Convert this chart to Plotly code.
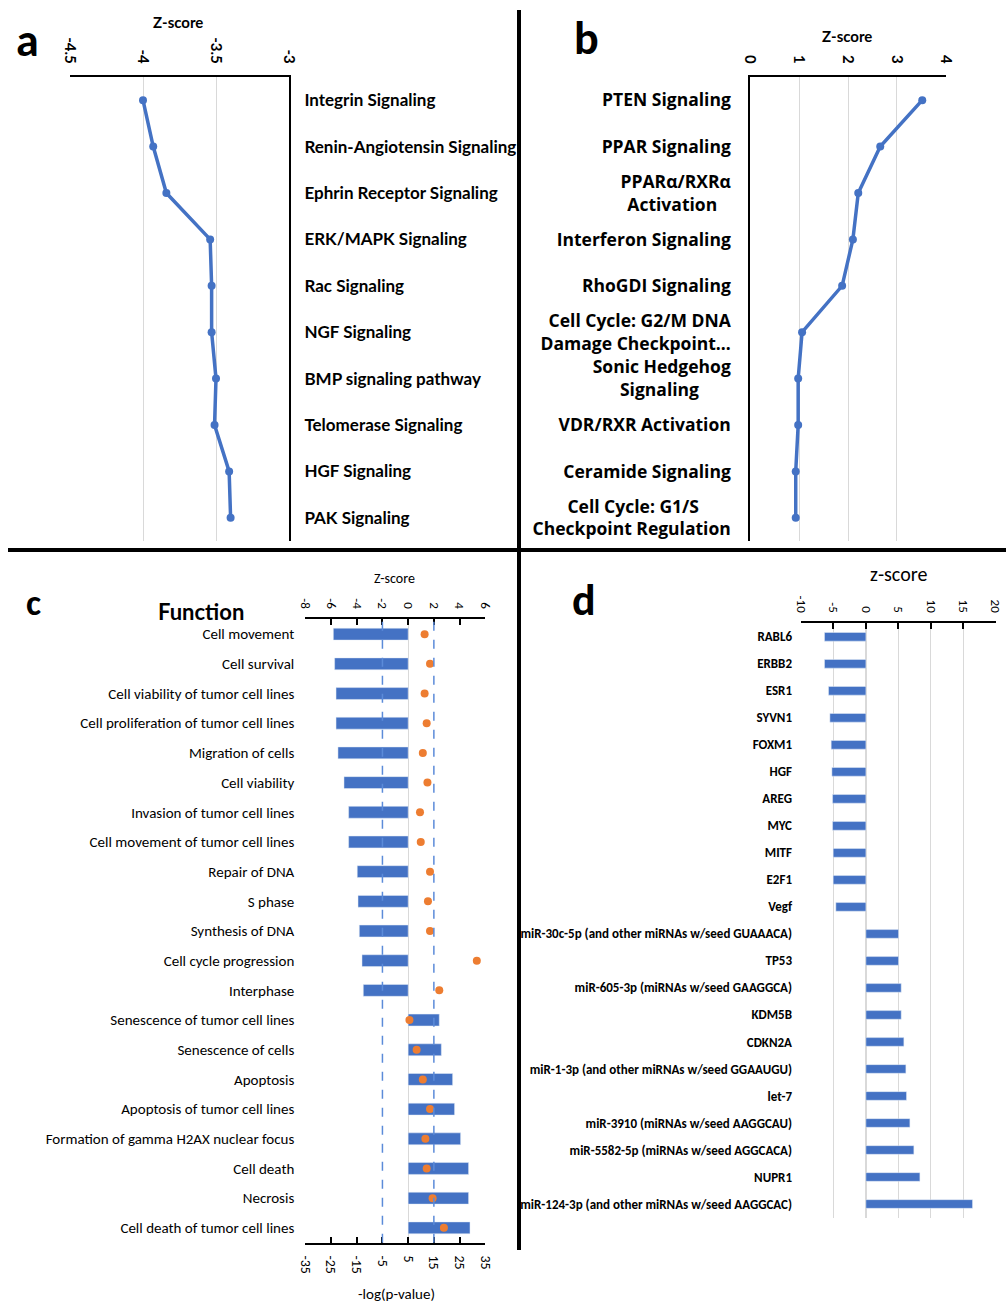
import plotly.graph_objects as go

NB = "\u00a0"

# ---------------- data ----------------
a_paths = ["Integrin Signaling", "Renin-Angiotensin Signaling", "Ephrin Receptor Signaling",
           "ERK/MAPK Signaling", "Rac Signaling", "NGF Signaling", "BMP signaling pathway",
           "Telomerase Signaling", "HGF Signaling", "PAK Signaling"]
a_z = [-4.00, -3.93, -3.84, -3.54, -3.53, -3.53, -3.50, -3.51, -3.41, -3.40]
a_ticks = [-4.5, -4, -3.5, -3]

b_paths = ["PTEN Signaling", "PPAR Signaling", "PPARα/RXRα<br>Activation" + NB * 3,
           "Interferon Signaling", "RhoGDI Signaling", "Cell Cycle: G2/M DNA<br>Damage Checkpoint…",
           "Sonic Hedgehog<br>Signaling" + NB * 7, "VDR/RXR Activation", "Ceramide Signaling",
           "Cell Cycle: G1/S" + NB * 7 + "<br>Checkpoint Regulation"]
b_z = [3.52, 2.66, 2.21, 2.10, 1.88, 1.06, 0.98, 0.98, 0.93, 0.93]
b_ticks = [0, 1, 2, 3, 4]

c_functions = ["Cell movement", "Cell survival", "Cell viability of tumor cell lines",
               "Cell proliferation of tumor cell lines", "Migration of cells", "Cell viability",
               "Invasion of tumor cell lines", "Cell movement of tumor cell lines", "Repair of DNA",
               "S phase", "Synthesis of DNA", "Cell cycle progression", "Interphase",
               "Senescence of tumor cell lines", "Senescence of cells", "Apoptosis",
               "Apoptosis of tumor cell lines", "Formation of gamma H2AX nuclear focus",
               "Cell death", "Necrosis", "Cell death of tumor cell lines"]
c_z = [-5.82, -5.72, -5.61, -5.61, -5.46, -4.99, -4.63, -4.63, -3.96, -3.90, -3.80, -3.59, -3.49,
       2.42, 2.58, 3.46, 3.61, 4.08, 4.70, 4.70, 4.81]
c_logp = [11.4, 13.5, 11.4, 12.2, 10.7, 12.5, 9.6, 9.9, 13.5, 12.7, 13.5, 31.7, 17.1,
          5.5, 8.3, 10.7, 13.5, 11.7, 12.2, 14.5, 18.9]
c_z_ticks = [-8, -6, -4, -2, 0, 2, 4, 6]
c_p_ticks = [-35, -25, -15, -5, 5, 15, 25, 35]
c_thresholds = [-2, 2]

d_regulators = ["RABL6", "ERBB2", "ESR1", "SYVN1", "FOXM1", "HGF", "AREG", "MYC", "MITF", "E2F1", "Vegf",
                "miR-30c-5p (and other miRNAs w/seed GUAAACA)", "TP53",
                "miR-605-3p (miRNAs w/seed GAAGGCA)", "KDM5B", "CDKN2A",
                "miR-1-3p (and other miRNAs w/seed GGAAUGU)", "let-7",
                "miR-3910 (miRNAs w/seed AAGGCAU)", "miR-5582-5p (miRNAs w/seed AGGCACA)",
                "NUPR1", "miR-124-3p (and other miRNAs w/seed AAGGCAC)"]
d_z = [-6.38, -6.38, -5.76, -5.55, -5.35, -5.24, -5.14, -5.14, -5.04, -5.04, -4.63,
       5.03, 5.03, 5.44, 5.44, 5.85, 6.16, 6.26, 6.78, 7.39, 8.32, 16.43]
d_ticks = [-10, -5, 0, 5, 10, 15, 20]

# ---------------- styling ----------------
W, H = 1006, 1304
BLUE = "#4472C4"
ORANGE = "#ED7D31"
GRID = "#d9d9d9"
BOLD = "Lato"
NARROW = "Liberation Sans Narrow, Carlito, Roboto"


def px_x(p):
    return p / W


def px_y(p):
    return 1 - p / H


def fmt(v):
    return ("%g" % v)


def cat_range(items):
    return [len(items) - 0.5, -0.5]


fig = go.Figure()

# Panel a
fig.add_trace(go.Scatter(x=a_z, y=a_paths, mode="lines+markers", xaxis="x", yaxis="y",
                         line=dict(color=BLUE, width=3.5), marker=dict(color=BLUE, size=8),
                         showlegend=False))
# Panel b
fig.add_trace(go.Scatter(x=b_z, y=b_paths, mode="lines+markers", xaxis="x2", yaxis="y2",
                         line=dict(color=BLUE, width=3.5), marker=dict(color=BLUE, size=8),
                         showlegend=False))
# Panel c
fig.add_trace(go.Bar(x=c_z, y=c_functions, orientation="h", xaxis="x3", yaxis="y3",
                     marker=dict(color=BLUE), width=0.4, showlegend=False))
fig.add_trace(go.Scatter(x=c_logp, y=c_functions, mode="markers", xaxis="x4", yaxis="y3",
                         marker=dict(color=ORANGE, size=8), showlegend=False))
# Panel d
fig.add_trace(go.Bar(x=d_z, y=d_regulators, orientation="h", xaxis="x5", yaxis="y4",
                     marker=dict(color=BLUE), width=0.32, showlegend=False))

top_a = dict(side="top", showline=True, linecolor="black", linewidth=2, showgrid=True,
             gridcolor=GRID, gridwidth=1, zeroline=False, tickangle=90, ticks="",
             ticklabelstandoff=6, automargin=False,
             tickfont=dict(family=BOLD, size=15, color="black", weight="bold"))

layout = dict(
    width=W, height=H, autosize=False, margin=dict(l=0, r=0, t=0, b=0, pad=0, autoexpand=False),
    paper_bgcolor="white", plot_bgcolor="white", showlegend=False,
    xaxis=dict(domain=[px_x(70), px_x(289)], anchor="y", range=[-4.5, -3],
               tickvals=a_ticks, ticktext=[fmt(v) for v in a_ticks], **top_a),
    yaxis=dict(domain=[px_y(541), px_y(77)], anchor="x", type="category", range=cat_range(a_paths),
               side="right", showline=True, linecolor="black", linewidth=2, showgrid=False,
               ticks="", ticklabelstandoff=10, automargin=False,
               tickfont=dict(family=BOLD, size=17, color="black", weight="bold")),
    xaxis2=dict(domain=[px_x(750.3), px_x(945.7)], anchor="y2", range=[0, 4],
                tickvals=b_ticks, ticktext=[fmt(v) for v in b_ticks], **top_a),
    yaxis2=dict(domain=[px_y(541), px_y(77)], anchor="x2", type="category", range=cat_range(b_paths),
                side="left", showline=True, linecolor="black", linewidth=2, showgrid=False,
                ticks="", ticklabelstandoff=14, automargin=False,
                tickfont=dict(family="Open Sans", size=17.5, color="black", weight="bold")),
    xaxis3=dict(domain=[px_x(305.3), px_x(485.3)], anchor="y3", side="top", range=[-8, 6],
                tickvals=c_z_ticks, ticktext=[fmt(v) for v in c_z_ticks], tickangle=90,
                showline=True, linecolor="black", linewidth=2, ticks="inside", ticklen=6,
                tickcolor="black", tickwidth=1.5, showgrid=False, zeroline=True,
                zerolinecolor=GRID, zerolinewidth=1, ticklabelstandoff=4, automargin=False,
                tickfont=dict(family=NARROW, size=13, color="black")),
    xaxis4=dict(overlaying="x3", anchor="y3", side="bottom", range=[-35, 35],
                tickvals=c_p_ticks, ticktext=[fmt(v) for v in c_p_ticks], tickangle=90,
                showline=True, linecolor="black", linewidth=2, ticks="inside", ticklen=6,
                tickcolor="black", tickwidth=1.5, showgrid=False, zeroline=False,
                ticklabelstandoff=8, automargin=False,
                tickfont=dict(family=NARROW, size=14, color="black")),
    yaxis3=dict(domain=[px_y(1242.7), px_y(619.3)], anchor="x3", type="category",
                range=cat_range(c_functions), showline=False, showgrid=False, ticks="",
                ticklabelstandoff=10, automargin=False,
                tickfont=dict(family=NARROW, size=15, color="black")),
    xaxis5=dict(domain=[px_x(801), px_x(995.7)], anchor="y4", side="top", range=[-10, 20],
                tickvals=d_ticks, ticktext=[fmt(v) for v in d_ticks], tickangle=90,
                showline=True, linecolor="black", linewidth=2, ticks="inside", ticklen=6,
                tickcolor="black", tickwidth=1.5, showgrid=True, gridcolor=GRID,
                zeroline=True, zerolinecolor=GRID, ticklabelstandoff=4, automargin=False,
                tickfont=dict(family=NARROW, size=13, color="black")),
    yaxis4=dict(domain=[px_y(1217.5), px_y(623.3)], anchor="x5", type="category",
                range=cat_range(d_regulators), showline=False, showgrid=False, ticks="",
                ticklabelstandoff=8, automargin=False,
                tickfont=dict(family=NARROW, size=13, color="black", weight="bold")),
)
fig.update_layout(**layout)

# threshold lines in panel c
for t in c_thresholds:
    fig.add_shape(type="line", xref="x3", yref="y3 domain", x0=t, x1=t, y0=0, y1=1,
                  line=dict(color="#5B8BD9", width=1.5, dash="dash"))

# panel dividers
div_x = px_x(519)
div_y = px_y(550)
fig.add_shape(type="line", xref="paper", yref="paper", x0=div_x, x1=div_x, y0=px_y(10), y1=div_y,
              line=dict(color="black", width=4))
fig.add_shape(type="line", xref="paper", yref="paper", x0=px_x(8), x1=1, y0=div_y, y1=div_y,
              line=dict(color="black", width=4))
fig.add_shape(type="line", xref="paper", yref="paper", x0=div_x, x1=div_x, y0=div_y, y1=px_y(1250),
              line=dict(color="black", width=4))


def note(text, x, y, size, family="Liberation Sans", weight="bold"):
    fig.add_annotation(text=text, xref="paper", yref="paper", x=px_x(x), y=px_y(y),
                       xanchor="center", yanchor="middle", showarrow=False,
                       font=dict(family=family, size=size, color="black", weight=weight))


note("a", 27, 40, 46, family=NARROW)
note("b", 586, 38, 46, family=NARROW)
note("c", 33, 603, 36, family=NARROW)
note("d", 584, 600, 44, family=NARROW)
note("Z-score", 178, 22, 15, family=BOLD)
note("Z-score", 847, 36, 15, family=BOLD)
note("Z-score", 394, 579, 14, family=NARROW, weight="normal")
note("Function", 201, 612, 22, family=BOLD)
note("-log(p-value)", 396, 1294, 15, family=NARROW, weight="normal")
note("z-score", 898, 574, 20, family=NARROW, weight="normal")

fig.write_html(
    "out.html",
    config={"responsive": False, "displayModeBar": False},
    post_script=("document.documentElement.style.margin='0';document.body.style.margin='0';"
                 "document.body.style.padding='0';document.documentElement.style.overflow='hidden';"
                 "document.body.style.overflow='hidden';"),
)
